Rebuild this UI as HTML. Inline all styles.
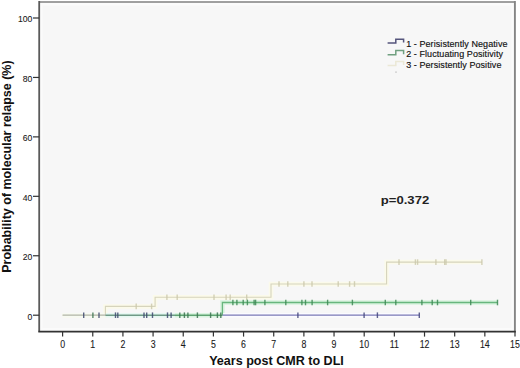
<!DOCTYPE html><html><head><meta charset="utf-8"><style>html,body{margin:0;padding:0;background:#fff;width:520px;height:368px;overflow:hidden}svg{display:block}text{font-family:"Liberation Sans",sans-serif}</style></head><body>
<svg width="520" height="368" viewBox="0 0 520 368">
<rect x="0" y="0" width="520" height="368" fill="#fff"/>
<rect x="39.2" y="2" width="475.5" height="329.4" fill="#fbfbfb" stroke="none"/>
<rect x="42.6" y="5.4" width="469" height="322.6" fill="#f7f7f7" stroke="none"/>
<line x1="39.2" y1="2" x2="514.9" y2="2" stroke="#808080" stroke-width="1.6"/>
<line x1="514.9" y1="1.1" x2="514.9" y2="331.6" stroke="#858585" stroke-width="1.9"/>
<line x1="39.2" y1="1.1" x2="39.2" y2="331.6" stroke="#5a5a5a" stroke-width="1.8"/>
<line x1="38.3" y1="331.6" x2="515.8" y2="331.6" stroke="#333" stroke-width="1.6"/>
<line x1="33" y1="315.20" x2="39.2" y2="315.20" stroke="#333" stroke-width="1.2"/>
<text transform="translate(32.4,319.50) scale(0.9,1)" font-size="9.6" text-anchor="end" fill="#1a1a1a" stroke="#1a1a1a" stroke-width="0.1">0</text>
<line x1="33" y1="255.76" x2="39.2" y2="255.76" stroke="#333" stroke-width="1.2"/>
<text transform="translate(32.4,260.06) scale(0.9,1)" font-size="9.6" text-anchor="end" fill="#1a1a1a" stroke="#1a1a1a" stroke-width="0.1">20</text>
<line x1="33" y1="196.32" x2="39.2" y2="196.32" stroke="#333" stroke-width="1.2"/>
<text transform="translate(32.4,200.62) scale(0.9,1)" font-size="9.6" text-anchor="end" fill="#1a1a1a" stroke="#1a1a1a" stroke-width="0.1">40</text>
<line x1="33" y1="136.88" x2="39.2" y2="136.88" stroke="#333" stroke-width="1.2"/>
<text transform="translate(32.4,141.18) scale(0.9,1)" font-size="9.6" text-anchor="end" fill="#1a1a1a" stroke="#1a1a1a" stroke-width="0.1">60</text>
<line x1="33" y1="77.44" x2="39.2" y2="77.44" stroke="#333" stroke-width="1.2"/>
<text transform="translate(32.4,81.74) scale(0.9,1)" font-size="9.6" text-anchor="end" fill="#1a1a1a" stroke="#1a1a1a" stroke-width="0.1">80</text>
<line x1="33" y1="18.00" x2="39.2" y2="18.00" stroke="#333" stroke-width="1.2"/>
<text transform="translate(32.4,22.30) scale(0.9,1)" font-size="9.6" text-anchor="end" fill="#1a1a1a" stroke="#1a1a1a" stroke-width="0.1">100</text>
<line x1="62.60" y1="331.4" x2="62.60" y2="336.6" stroke="#333" stroke-width="1.2"/>
<text transform="translate(62.60,347.6) scale(0.88,1)" font-size="10" text-anchor="middle" fill="#1a1a1a" stroke="#1a1a1a" stroke-width="0.1">0</text>
<line x1="92.76" y1="331.4" x2="92.76" y2="336.6" stroke="#333" stroke-width="1.2"/>
<text transform="translate(92.76,347.6) scale(0.88,1)" font-size="10" text-anchor="middle" fill="#1a1a1a" stroke="#1a1a1a" stroke-width="0.1">1</text>
<line x1="122.92" y1="331.4" x2="122.92" y2="336.6" stroke="#333" stroke-width="1.2"/>
<text transform="translate(122.92,347.6) scale(0.88,1)" font-size="10" text-anchor="middle" fill="#1a1a1a" stroke="#1a1a1a" stroke-width="0.1">2</text>
<line x1="153.08" y1="331.4" x2="153.08" y2="336.6" stroke="#333" stroke-width="1.2"/>
<text transform="translate(153.08,347.6) scale(0.88,1)" font-size="10" text-anchor="middle" fill="#1a1a1a" stroke="#1a1a1a" stroke-width="0.1">3</text>
<line x1="183.24" y1="331.4" x2="183.24" y2="336.6" stroke="#333" stroke-width="1.2"/>
<text transform="translate(183.24,347.6) scale(0.88,1)" font-size="10" text-anchor="middle" fill="#1a1a1a" stroke="#1a1a1a" stroke-width="0.1">4</text>
<line x1="213.40" y1="331.4" x2="213.40" y2="336.6" stroke="#333" stroke-width="1.2"/>
<text transform="translate(213.40,347.6) scale(0.88,1)" font-size="10" text-anchor="middle" fill="#1a1a1a" stroke="#1a1a1a" stroke-width="0.1">5</text>
<line x1="243.56" y1="331.4" x2="243.56" y2="336.6" stroke="#333" stroke-width="1.2"/>
<text transform="translate(243.56,347.6) scale(0.88,1)" font-size="10" text-anchor="middle" fill="#1a1a1a" stroke="#1a1a1a" stroke-width="0.1">6</text>
<line x1="273.72" y1="331.4" x2="273.72" y2="336.6" stroke="#333" stroke-width="1.2"/>
<text transform="translate(273.72,347.6) scale(0.88,1)" font-size="10" text-anchor="middle" fill="#1a1a1a" stroke="#1a1a1a" stroke-width="0.1">7</text>
<line x1="303.88" y1="331.4" x2="303.88" y2="336.6" stroke="#333" stroke-width="1.2"/>
<text transform="translate(303.88,347.6) scale(0.88,1)" font-size="10" text-anchor="middle" fill="#1a1a1a" stroke="#1a1a1a" stroke-width="0.1">8</text>
<line x1="334.04" y1="331.4" x2="334.04" y2="336.6" stroke="#333" stroke-width="1.2"/>
<text transform="translate(334.04,347.6) scale(0.88,1)" font-size="10" text-anchor="middle" fill="#1a1a1a" stroke="#1a1a1a" stroke-width="0.1">9</text>
<line x1="364.20" y1="331.4" x2="364.20" y2="336.6" stroke="#333" stroke-width="1.2"/>
<text transform="translate(364.20,347.6) scale(0.88,1)" font-size="10" text-anchor="middle" fill="#1a1a1a" stroke="#1a1a1a" stroke-width="0.1">10</text>
<line x1="394.36" y1="331.4" x2="394.36" y2="336.6" stroke="#333" stroke-width="1.2"/>
<text transform="translate(394.36,347.6) scale(0.88,1)" font-size="10" text-anchor="middle" fill="#1a1a1a" stroke="#1a1a1a" stroke-width="0.1">11</text>
<line x1="424.52" y1="331.4" x2="424.52" y2="336.6" stroke="#333" stroke-width="1.2"/>
<text transform="translate(424.52,347.6) scale(0.88,1)" font-size="10" text-anchor="middle" fill="#1a1a1a" stroke="#1a1a1a" stroke-width="0.1">12</text>
<line x1="454.68" y1="331.4" x2="454.68" y2="336.6" stroke="#333" stroke-width="1.2"/>
<text transform="translate(454.68,347.6) scale(0.88,1)" font-size="10" text-anchor="middle" fill="#1a1a1a" stroke="#1a1a1a" stroke-width="0.1">13</text>
<line x1="484.84" y1="331.4" x2="484.84" y2="336.6" stroke="#333" stroke-width="1.2"/>
<text transform="translate(484.84,347.6) scale(0.88,1)" font-size="10" text-anchor="middle" fill="#1a1a1a" stroke="#1a1a1a" stroke-width="0.1">14</text>
<line x1="515.00" y1="331.4" x2="515.00" y2="336.6" stroke="#333" stroke-width="1.2"/>
<text transform="translate(515.00,347.6) scale(0.88,1)" font-size="10" text-anchor="middle" fill="#1a1a1a" stroke="#1a1a1a" stroke-width="0.1">15</text>
<text x="209.2" y="364.6" font-size="12" font-weight="bold" textLength="134.6" lengthAdjust="spacingAndGlyphs" fill="#111">Years post CMR to DLI</text>
<text transform="translate(10.5,272.8) rotate(-90)" x="0" y="0" font-size="12.5" font-weight="bold" textLength="212.4" lengthAdjust="spacingAndGlyphs" fill="#111">Probability of molecular relapse (%)</text>
<text x="380.8" y="203.5" font-size="11.5" font-weight="bold" textLength="48.4" lengthAdjust="spacingAndGlyphs" fill="#222">p=0.372</text>
<polyline points="62.6,315.2 105.4,315.2 105.4,306.4 155.1,306.4 155.1,297.3 271.0,297.3 271.0,284.0 386.6,284.0 386.6,262.1 482.0,262.1" fill="none" stroke="#fbfaea" stroke-width="4.5"/>
<polyline points="222.4,315.2 222.4,302.5 497.5,302.5" fill="none" stroke="#d9f3df" stroke-width="4.5"/>
<line x1="222.4" y1="315.2" x2="419.3" y2="315.2" stroke="#fbfbff" stroke-width="4.5"/>
<line x1="62.6" y1="315.2" x2="105.4" y2="315.2" stroke="#f7faf2" stroke-width="4.5"/>
<line x1="105.4" y1="315.2" x2="175" y2="315.2" stroke="#e6f8f2" stroke-width="4.5"/>
<line x1="175" y1="315.2" x2="222.4" y2="315.2" stroke="#daf4e0" stroke-width="4.5"/>
<polyline points="62.6,315.2 105.4,315.2 105.4,306.4 155.1,306.4 155.1,297.3 271.0,297.3 271.0,284.0 386.6,284.0 386.6,262.1 482.0,262.1" fill="none" stroke="#d6d4bc" stroke-width="1.1"/>
<line x1="136.20" y1="303.60" x2="136.20" y2="309.20" stroke="#cdcaae" stroke-width="1.4" opacity="0.85"/>
<line x1="151.60" y1="303.60" x2="151.60" y2="309.20" stroke="#cdcaae" stroke-width="1.4" opacity="0.85"/>
<line x1="166.90" y1="294.50" x2="166.90" y2="300.10" stroke="#cdcaae" stroke-width="1.4" opacity="0.85"/>
<line x1="177.20" y1="294.50" x2="177.20" y2="300.10" stroke="#cdcaae" stroke-width="1.4" opacity="0.85"/>
<line x1="214.00" y1="294.50" x2="214.00" y2="300.10" stroke="#cdcaae" stroke-width="1.4" opacity="0.85"/>
<line x1="226.10" y1="294.50" x2="226.10" y2="300.10" stroke="#cdcaae" stroke-width="1.4" opacity="0.85"/>
<line x1="230.20" y1="294.50" x2="230.20" y2="300.10" stroke="#cdcaae" stroke-width="1.4" opacity="0.85"/>
<line x1="246.70" y1="294.50" x2="246.70" y2="300.10" stroke="#cdcaae" stroke-width="1.4" opacity="0.85"/>
<line x1="279.00" y1="281.20" x2="279.00" y2="286.80" stroke="#cdcaae" stroke-width="1.4" opacity="0.85"/>
<line x1="287.80" y1="281.20" x2="287.80" y2="286.80" stroke="#cdcaae" stroke-width="1.4" opacity="0.85"/>
<line x1="303.90" y1="281.20" x2="303.90" y2="286.80" stroke="#cdcaae" stroke-width="1.4" opacity="0.85"/>
<line x1="312.00" y1="281.20" x2="312.00" y2="286.80" stroke="#cdcaae" stroke-width="1.4" opacity="0.85"/>
<line x1="338.20" y1="281.20" x2="338.20" y2="286.80" stroke="#cdcaae" stroke-width="1.4" opacity="0.85"/>
<line x1="349.60" y1="281.20" x2="349.60" y2="286.80" stroke="#cdcaae" stroke-width="1.4" opacity="0.85"/>
<line x1="354.50" y1="281.20" x2="354.50" y2="286.80" stroke="#cdcaae" stroke-width="1.4" opacity="0.85"/>
<line x1="399.00" y1="259.30" x2="399.00" y2="264.90" stroke="#cdcaae" stroke-width="1.4" opacity="0.85"/>
<line x1="415.40" y1="259.30" x2="415.40" y2="264.90" stroke="#cdcaae" stroke-width="1.4" opacity="0.85"/>
<line x1="417.60" y1="259.30" x2="417.60" y2="264.90" stroke="#cdcaae" stroke-width="1.4" opacity="0.85"/>
<line x1="435.90" y1="259.30" x2="435.90" y2="264.90" stroke="#cdcaae" stroke-width="1.4" opacity="0.85"/>
<line x1="444.70" y1="259.30" x2="444.70" y2="264.90" stroke="#cdcaae" stroke-width="1.4" opacity="0.85"/>
<line x1="446.00" y1="259.30" x2="446.00" y2="264.90" stroke="#cdcaae" stroke-width="1.4" opacity="0.85"/>
<line x1="481.90" y1="259.30" x2="481.90" y2="264.90" stroke="#cdcaae" stroke-width="1.4" opacity="0.85"/>
<polyline points="222.4,315.2 222.4,302.5 497.5,302.5" fill="none" stroke="#68b67e" stroke-width="1.3"/>
<line x1="232.90" y1="299.70" x2="232.90" y2="305.30" stroke="#3f8a56" stroke-width="1.4" opacity="0.85"/>
<line x1="236.90" y1="299.70" x2="236.90" y2="305.30" stroke="#3f8a56" stroke-width="1.4" opacity="0.85"/>
<line x1="243.20" y1="299.70" x2="243.20" y2="305.30" stroke="#3f8a56" stroke-width="1.4" opacity="0.85"/>
<line x1="247.40" y1="299.70" x2="247.40" y2="305.30" stroke="#3f8a56" stroke-width="1.4" opacity="0.85"/>
<line x1="254.10" y1="299.70" x2="254.10" y2="305.30" stroke="#3f8a56" stroke-width="1.4" opacity="0.85"/>
<line x1="255.60" y1="299.70" x2="255.60" y2="305.30" stroke="#3f8a56" stroke-width="1.4" opacity="0.85"/>
<line x1="264.90" y1="299.70" x2="264.90" y2="305.30" stroke="#3f8a56" stroke-width="1.4" opacity="0.85"/>
<line x1="285.80" y1="299.70" x2="285.80" y2="305.30" stroke="#3f8a56" stroke-width="1.4" opacity="0.85"/>
<line x1="301.90" y1="299.70" x2="301.90" y2="305.30" stroke="#3f8a56" stroke-width="1.4" opacity="0.85"/>
<line x1="305.50" y1="299.70" x2="305.50" y2="305.30" stroke="#3f8a56" stroke-width="1.4" opacity="0.85"/>
<line x1="312.10" y1="299.70" x2="312.10" y2="305.30" stroke="#3f8a56" stroke-width="1.4" opacity="0.85"/>
<line x1="327.60" y1="299.70" x2="327.60" y2="305.30" stroke="#3f8a56" stroke-width="1.4" opacity="0.85"/>
<line x1="352.40" y1="299.70" x2="352.40" y2="305.30" stroke="#3f8a56" stroke-width="1.4" opacity="0.85"/>
<line x1="385.30" y1="299.70" x2="385.30" y2="305.30" stroke="#3f8a56" stroke-width="1.4" opacity="0.85"/>
<line x1="395.80" y1="299.70" x2="395.80" y2="305.30" stroke="#3f8a56" stroke-width="1.4" opacity="0.85"/>
<line x1="421.90" y1="299.70" x2="421.90" y2="305.30" stroke="#3f8a56" stroke-width="1.4" opacity="0.85"/>
<line x1="432.20" y1="299.70" x2="432.20" y2="305.30" stroke="#3f8a56" stroke-width="1.4" opacity="0.85"/>
<line x1="437.50" y1="299.70" x2="437.50" y2="305.30" stroke="#3f8a56" stroke-width="1.4" opacity="0.85"/>
<line x1="470.70" y1="299.70" x2="470.70" y2="305.30" stroke="#3f8a56" stroke-width="1.4" opacity="0.85"/>
<line x1="497.50" y1="299.70" x2="497.50" y2="305.30" stroke="#3f8a56" stroke-width="1.4" opacity="0.85"/>
<line x1="222.4" y1="315.2" x2="419.3" y2="315.2" stroke="#7a78b6" stroke-width="1.3"/>
<line x1="297.90" y1="312.40" x2="297.90" y2="318.00" stroke="#44477e" stroke-width="1.4" opacity="0.85"/>
<line x1="364.10" y1="312.40" x2="364.10" y2="318.00" stroke="#44477e" stroke-width="1.4" opacity="0.85"/>
<line x1="377.40" y1="312.40" x2="377.40" y2="318.00" stroke="#44477e" stroke-width="1.4" opacity="0.85"/>
<line x1="419.30" y1="312.40" x2="419.30" y2="318.00" stroke="#44477e" stroke-width="1.4" opacity="0.85"/>
<line x1="62.6" y1="315.2" x2="105.4" y2="315.2" stroke="#b9beb3" stroke-width="1.3"/>
<line x1="105.4" y1="315.2" x2="175" y2="315.2" stroke="#6f9a86" stroke-width="1.4"/>
<line x1="175" y1="315.2" x2="222.4" y2="315.2" stroke="#5fa472" stroke-width="1.4"/>
<line x1="83.70" y1="312.40" x2="83.70" y2="318.00" stroke="#404a70" stroke-width="1.4" opacity="0.85"/>
<line x1="99.00" y1="312.40" x2="99.00" y2="318.00" stroke="#404a70" stroke-width="1.4" opacity="0.85"/>
<line x1="115.50" y1="312.40" x2="115.50" y2="318.00" stroke="#404a70" stroke-width="1.4" opacity="0.85"/>
<line x1="117.80" y1="312.40" x2="117.80" y2="318.00" stroke="#404a70" stroke-width="1.4" opacity="0.85"/>
<line x1="144.00" y1="312.40" x2="144.00" y2="318.00" stroke="#404a70" stroke-width="1.4" opacity="0.85"/>
<line x1="146.70" y1="312.40" x2="146.70" y2="318.00" stroke="#404a70" stroke-width="1.4" opacity="0.85"/>
<line x1="152.50" y1="312.40" x2="152.50" y2="318.00" stroke="#404a70" stroke-width="1.4" opacity="0.85"/>
<line x1="167.50" y1="312.40" x2="167.50" y2="318.00" stroke="#404a70" stroke-width="1.4" opacity="0.85"/>
<line x1="171.10" y1="312.40" x2="171.10" y2="318.00" stroke="#404a70" stroke-width="1.4" opacity="0.85"/>
<line x1="92.90" y1="312.40" x2="92.90" y2="318.00" stroke="#3d7552" stroke-width="1.4" opacity="0.85"/>
<line x1="179.80" y1="312.40" x2="179.80" y2="318.00" stroke="#3d7552" stroke-width="1.4" opacity="0.85"/>
<line x1="184.40" y1="312.40" x2="184.40" y2="318.00" stroke="#3d7552" stroke-width="1.4" opacity="0.85"/>
<line x1="187.90" y1="312.40" x2="187.90" y2="318.00" stroke="#3d7552" stroke-width="1.4" opacity="0.85"/>
<line x1="197.40" y1="312.40" x2="197.40" y2="318.00" stroke="#3d7552" stroke-width="1.4" opacity="0.85"/>
<line x1="210.60" y1="312.40" x2="210.60" y2="318.00" stroke="#3d7552" stroke-width="1.4" opacity="0.85"/>
<line x1="217.40" y1="312.40" x2="217.40" y2="318.00" stroke="#3d7552" stroke-width="1.4" opacity="0.85"/>
<line x1="220.80" y1="312.40" x2="220.80" y2="318.00" stroke="#3d7552" stroke-width="1.4" opacity="0.85"/>
<polyline points="387.6,43.1 395.8,43.1 395.8,39.2 403.6,39.2 403.6,42.5" fill="none" stroke="#55557c" stroke-width="1.5"/>
<polyline points="387.6,54.8 395.8,54.8 395.8,50.6 403.6,50.6 403.6,54.2" fill="none" stroke="#70a080" stroke-width="1.5"/>
<polyline points="387.6,65.6 395.8,65.6 395.8,61.4 403.6,61.4 403.6,65.0" fill="none" stroke="#ebe8d6" stroke-width="1.5"/>
<text x="406.2" y="46.8" font-size="9" fill="#111" stroke="#111" stroke-width="0.15" letter-spacing="0.07">1 - Perisistently Negative</text>
<text x="406.2" y="56.8" font-size="9" fill="#111" stroke="#111" stroke-width="0.15" letter-spacing="0.07">2 - Fluctuating Positivity</text>
<text x="406.2" y="67.6" font-size="9" fill="#111" stroke="#111" stroke-width="0.15" letter-spacing="0.07">3 - Persistently Positive</text>
<circle cx="396" cy="72" r="0.6" fill="#888"/>
</svg></body></html>
